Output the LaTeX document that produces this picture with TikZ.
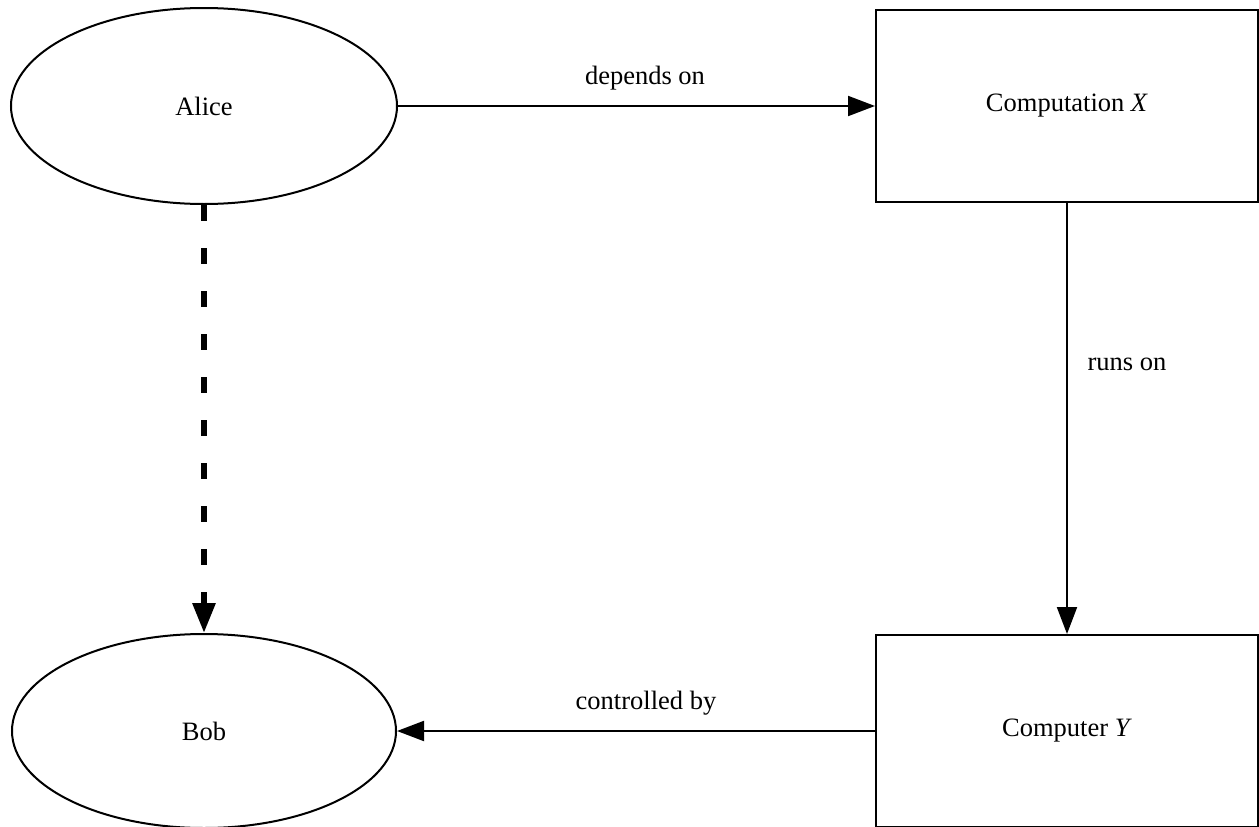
\documentclass[tikz,border=0pt]{standalone}
\usepackage{fontspec}
\setmainfont{Liberation Serif}
\usetikzlibrary{arrows.meta,shapes.geometric}
\begin{document}
\begin{tikzpicture}[x=1pt,y=-1pt,
  every node/.style={font=\fontsize{26.5}{30}\selectfont},
  ent/.style={draw,line width=2pt,ellipse,minimum width=386pt,minimum height=196pt,inner sep=0pt},
  boxn/.style={draw,line width=2pt,rectangle,minimum width=382pt,minimum height=192pt,inner sep=0pt},
  rel/.style={line width=2pt,-{Triangle[length=27pt,width=20pt]}},
  lbl/.style={inner sep=0pt}]
\useasboundingbox (0,0) rectangle (1259,827);
\node[ent] (alice) at (204,106) {Alice};
\node[ent,minimum width=384pt,minimum height=194pt] (bob) at (204,731) {Bob};
\node[boxn] (cx) at (1067,106) {Computation \textit{X}};
\node[boxn] (cy) at (1067,731) {Computer \textit{Y}};
\draw[rel] (alice.east) -- (cx.west);
\draw[rel] (cx.south) -- (cy.north);
\draw[rel] (cy.west) -- (bob.east);
\draw[line width=6pt,dash pattern=on 16pt off 27pt,-{Triangle[length=30pt,width=22pt]}] (alice.south) -- (bob.north);
\node[lbl] (l1) at (645,78) {depends on};
\node[lbl] (l2) at (1127,364) {runs on};
\node[lbl] (l3) at (646,703) {controlled by};
\end{tikzpicture}
\end{document}
